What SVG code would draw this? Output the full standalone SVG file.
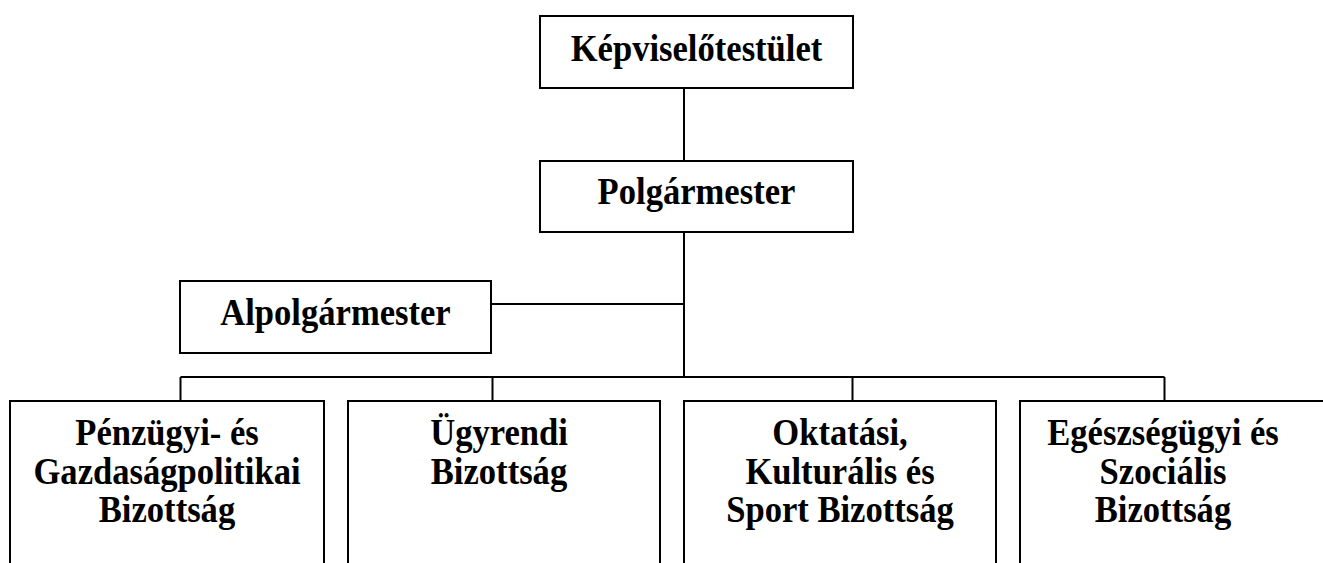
<svg xmlns="http://www.w3.org/2000/svg" width="1323" height="563" viewBox="0 0 1323 563">
<style>
.box{fill:#fff;stroke:#000;stroke-width:2}
.ln{fill:none;stroke:#000;stroke-width:2}
.t{font-family:"Liberation Serif","Times New Roman",serif;font-weight:bold;font-size:38px;fill:#000;text-anchor:middle}
</style>
<rect width="1323" height="563" fill="#fff"/>
<g id="connectors">
<line class="ln" x1="684" y1="88" x2="684" y2="161"/>
<line class="ln" x1="684" y1="232" x2="684" y2="377"/>
<line class="ln" x1="491" y1="304" x2="684" y2="304"/>
<line class="ln" x1="180.5" y1="377" x2="1164.5" y2="377"/>
<line class="ln" x1="180.5" y1="377" x2="180.5" y2="401"/>
<line class="ln" x1="492.5" y1="377" x2="492.5" y2="401"/>
<line class="ln" x1="852.5" y1="377" x2="852.5" y2="401"/>
<line class="ln" x1="1164.5" y1="377" x2="1164.5" y2="401"/>
</g>
<g id="kepviselotestulet">
<rect class="box" x="540" y="16" width="313" height="72"/>
<text class="t" transform="translate(696.5 61) scale(0.91 1)">Képviselőtestület</text>
</g>
<g id="polgarmester">
<rect class="box" x="540" y="161" width="313" height="71"/>
<text class="t" transform="translate(696.5 204) scale(0.91 1)">Polgármester</text>
</g>
<g id="alpolgarmester">
<rect class="box" x="180" y="281" width="311" height="72"/>
<text class="t" transform="translate(335.5 325) scale(0.91 1)">Alpolgármester</text>
</g>
<g id="penzugyi">
<rect class="box" x="10" y="401" width="314" height="180"/>
<text class="t" transform="translate(167 445) scale(0.91 1)">Pénzügyi- és</text>
<text class="t" transform="translate(167 484) scale(0.91 1)">Gazdaságpolitikai</text>
<text class="t" transform="translate(167 522) scale(0.91 1)">Bizottság</text>
</g>
<g id="ugyrendi">
<rect class="box" x="348" y="401" width="312" height="180"/>
<text class="t" transform="translate(499 445) scale(0.91 1)">Ügyrendi</text>
<text class="t" transform="translate(499 484) scale(0.91 1)">Bizottság</text>
</g>
<g id="oktatasi">
<rect class="box" x="684" y="401" width="312" height="180"/>
<text class="t" transform="translate(840 445) scale(0.91 1)">Oktatási,</text>
<text class="t" transform="translate(840 484) scale(0.91 1)">Kulturális és</text>
<text class="t" transform="translate(840 522) scale(0.91 1)">Sport Bizottság</text>
</g>
<g id="egeszsegugyi">
<rect class="box" x="1020" y="401" width="312" height="180"/>
<text class="t" transform="translate(1163 445) scale(0.91 1)">Egészségügyi és</text>
<text class="t" transform="translate(1163 484) scale(0.91 1)">Szociális</text>
<text class="t" transform="translate(1163 522) scale(0.91 1)">Bizottság</text>
</g>
</svg>
